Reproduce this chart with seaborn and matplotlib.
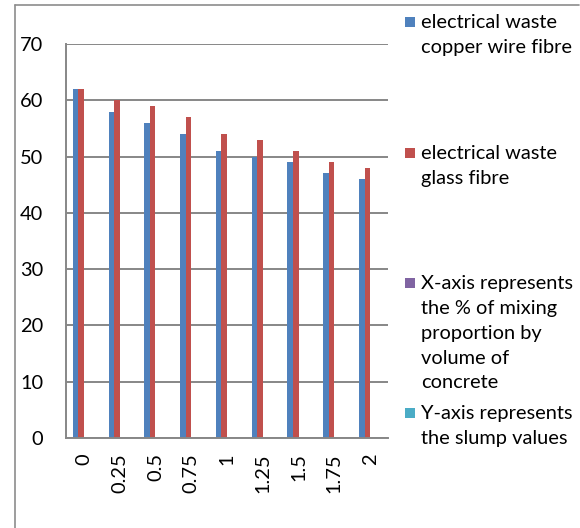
import matplotlib
matplotlib.use("Agg")
import matplotlib.pyplot as plt
from matplotlib.lines import Line2D
from matplotlib.patches import Rectangle
import numpy as np
import pandas as pd
import seaborn as sns

# Fibre content (% by volume of concrete) and measured slump values
proportions = ["0", "0.25", "0.5", "0.75", "1", "1.25", "1.5", "1.75", "2"]
copper_wire = [62, 58, 56, 54, 51, 50, 49, 47, 46]
glass_fibre = [62, 60, 59, 57, 54, 53, 51, 49, 48]

series_names = [
    "electrical waste\ncopper wire fibre",
    "electrical waste\nglass fibre",
    "X-axis represents\nthe % of mixing\nproportion by\nvolume of\nconcrete",
    "Y-axis represents\nthe slump values",
]
series_colors = ["#4F81BD", "#C0504D", "#8064A2", "#4BACC6"]

rows = []
for p, c, g in zip(proportions, copper_wire, glass_fibre):
    rows.append({"proportion": p, "series": series_names[0], "slump": c})
    rows.append({"proportion": p, "series": series_names[1], "slump": g})
    rows.append({"proportion": p, "series": series_names[2], "slump": np.nan})
    rows.append({"proportion": p, "series": series_names[3], "slump": np.nan})
df = pd.DataFrame(rows)

sns.set_theme(style="white")
plt.rcParams["font.family"] = ["Lato", "DejaVu Sans"]

W, H = 580, 528
FS = 14.4
fig = plt.figure(figsize=(W / 100, H / 100), dpi=100)
ax = fig.add_axes([66 / W, 1 - 438 / H, (388 - 66) / W, (438 - 44) / H])

sns.barplot(
    data=df, x="proportion", y="slump", hue="series",
    order=proportions, hue_order=series_names, palette=series_colors,
    saturation=1, width=0.62, legend=False, ax=ax, errorbar=None, linewidth=0,
)

grid_col = "#878787"
ax.set_xlim(-0.5, len(proportions) - 0.5)
ax.set_ylim(0, 70)
ax.set_yticks(range(0, 71, 10))
ax.yaxis.grid(True, color=grid_col, linewidth=1.4)
ax.set_axisbelow(True)
ax.set_xlabel("")
ax.set_ylabel("")

for side in ("top", "right"):
    ax.spines[side].set_visible(False)
for side in ("left", "bottom"):
    ax.spines[side].set_color(grid_col)
    ax.spines[side].set_linewidth(1.4)

ax.set_xticks(range(len(proportions)))
ax.set_xticklabels(proportions, rotation=90)
ax.set_xticks(np.arange(-0.5, len(proportions), 1.0), minor=True)
ax.tick_params(axis="x", which="major", length=0, pad=11, labelsize=FS, labelcolor="black")
ax.tick_params(axis="x", which="minor", length=6, width=1.4, color=grid_col, direction="out")
ax.tick_params(axis="y", which="major", length=6, width=1.4, color=grid_col, direction="out",
               pad=10.5, labelsize=FS, labelcolor="black")

# Chart area border
fig.add_artist(Line2D([15 / W, 15 / W], [0, 1 - 5 / H], color="#8c8c8c", linewidth=1.2))
fig.add_artist(Line2D([15 / W, 579 / W], [1 - 5 / H, 1 - 5 / H], color="#8c8c8c", linewidth=1.2))

# Legend entries, spread down the right-hand side
legend_rows = [21.7, 153, 283, 413]
for name, col, yc in zip(series_names, series_colors, legend_rows):
    fig.add_artist(Rectangle((405 / W, 1 - (yc + 5) / H), 10 / W, 10 / H,
                             transform=fig.transFigure, facecolor=col, edgecolor="none"))
    fig.text(421 / W, 1 - (yc - 8) / H, name, ha="left", va="top",
             fontsize=FS, linespacing=1.56, color="black")

fig.savefig("out.png", dpi=100, facecolor="white")
